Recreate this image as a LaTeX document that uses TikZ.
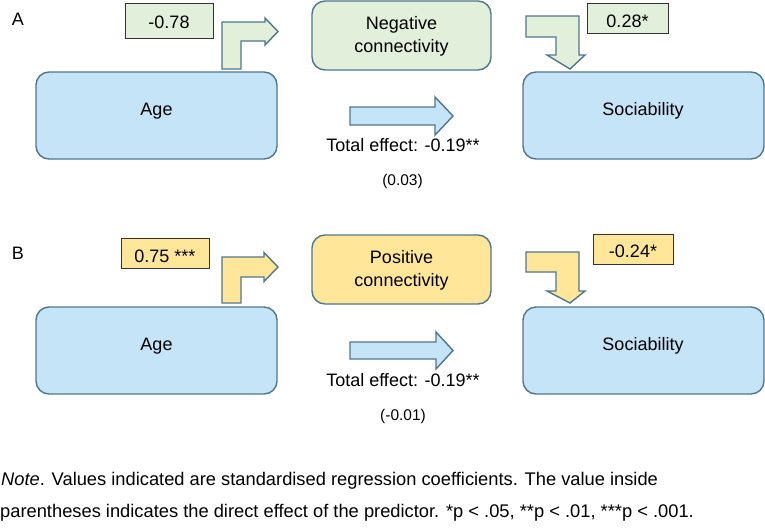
\documentclass[tikz,border=0pt]{standalone}
\usepackage{fontspec}
\setmainfont{Liberation Sans}
\begin{document}
\begin{tikzpicture}[x=1pt,y=-1pt,
  mainbox/.style={draw=bordcol, line width=1.4pt, rounded corners=13pt, inner sep=0pt},
  valbox/.style={draw=black!80, line width=1pt, inner sep=0pt},
  blockarrow/.style={draw=bordcol, line width=1.4pt, line join=miter},
  lbl/.style={font=\fontsize{18}{22}\selectfont, anchor=base, inner sep=0pt},
  small/.style={font=\fontsize{15.5}{19}\selectfont, anchor=base, inner sep=0pt},
  note/.style={font=\fontsize{18.3}{22}\selectfont, anchor=base west, inner sep=0pt},
]
\definecolor{bordcol}{HTML}{51768C}
\definecolor{bluefill}{HTML}{C6E4F7}
\definecolor{greenfill}{HTML}{E2EFDA}
\definecolor{yellowfill}{HTML}{FFE699}
\useasboundingbox (0,0) rectangle (765,531);

% ---------- Panel A ----------
\node[lbl, font=\fontsize{18}{21}\selectfont] (labA) at (18,25) {A};
\node[valbox, fill=greenfill, minimum width=88pt, minimum height=35pt] (vA1) at (169,20.5) {};
\node[lbl] (vA1t) at (169,28) {-0.78};
\node[mainbox, fill=bluefill, minimum width=241pt, minimum height=87pt] (ageA) at (156.5,115.5) {};
\node[lbl] (ageAt) at (156.5,115) {Age};
\node[mainbox, fill=greenfill, minimum width=179pt, minimum height=69pt] (negA) at (401.5,35.5) {};
\node[lbl] (negAt1) at (401.5,29) {Negative};
\node[lbl] (negAt2) at (401.5,52) {connectivity};
\node[valbox, fill=greenfill, minimum width=81pt, minimum height=30pt] (vA2) at (627.5,18) {};
\node[lbl] (vA2t) at (627.5,27) {0.28*};
\node[mainbox, fill=bluefill, minimum width=241pt, minimum height=87pt] (socA) at (643.5,115.5) {};
\node[lbl] (socAt) at (643,115) {Sociability};
% bent arrow up-right
\draw[blockarrow, fill=greenfill] (222,69) -- (222,22) -- (265,22) -- (265,18) -- (278,31.5) -- (265,45) -- (265,41) -- (241,41) -- (241,69) -- cycle;
% bent arrow down
\draw[blockarrow, fill=greenfill] (526,16) -- (579,16) -- (579,55) -- (585,55) -- (570,69) -- (547,55) -- (556,55) -- (556,37) -- (526,37) -- cycle;
% total effect arrow
\draw[blockarrow, fill=bluefill] (350,107) -- (435,107) -- (435,97) -- (453,116) -- (435,135) -- (435,125) -- (350,125) -- cycle;
\node[lbl] (totA) at (403,151) {Total effect: -0.19**};
\node[small] (dirA) at (402.5,185) {(0.03)};

% ---------- Panel B ----------
\node[lbl, font=\fontsize{18}{21}\selectfont] (labB) at (18,259) {B};
\node[valbox, fill=yellowfill, minimum width=88pt, minimum height=30pt] (vB1) at (165,253) {};
\node[lbl] (vB1t) at (165,262) {0.75 ***};
\node[mainbox, fill=bluefill, minimum width=241pt, minimum height=87pt] (ageB) at (156.5,350.5) {};
\node[lbl] (ageBt) at (156.5,350) {Age};
\node[mainbox, fill=yellowfill, minimum width=179pt, minimum height=69pt] (posB) at (401.5,269.5) {};
\node[lbl] (posBt1) at (401.5,263) {Positive};
\node[lbl] (posBt2) at (401.5,286) {connectivity};
\node[valbox, fill=yellowfill, minimum width=80pt, minimum height=30pt] (vB2) at (633,249) {};
\node[lbl] (vB2t) at (633,257) {-0.24*};
\node[mainbox, fill=bluefill, minimum width=241pt, minimum height=87pt] (socB) at (643.5,350.5) {};
\node[lbl] (socBt) at (643,350) {Sociability};
% bent arrow up-right
\draw[blockarrow, fill=yellowfill] (222,303) -- (222,257) -- (264,257) -- (264,252.5) -- (278,267) -- (264,281.5) -- (264,277) -- (241,277) -- (241,303) -- cycle;
% bent arrow down
\draw[blockarrow, fill=yellowfill] (526,252) -- (579,252) -- (579,291) -- (585,291) -- (570,303) -- (547,291) -- (556,291) -- (556,272) -- (526,272) -- cycle;
% total effect arrow
\draw[blockarrow, fill=bluefill] (350,342) -- (436,342) -- (436,332) -- (453,350.5) -- (436,369) -- (436,359) -- (350,359) -- cycle;
\node[lbl] (totB) at (403,386) {Total effect: -0.19**};
\node[small] (dirB) at (403,420) {(-0.01)};

% ---------- Note ----------
\node[note] (note1) at (1,485) {\textit{Note}. Values indicated are standardised regression coefficients. The value inside};
\node[note] (note2) at (0,517) {parentheses indicates the direct effect of the predictor. *p < .05, **p < .01, ***p < .001.};
\end{tikzpicture}
\end{document}
